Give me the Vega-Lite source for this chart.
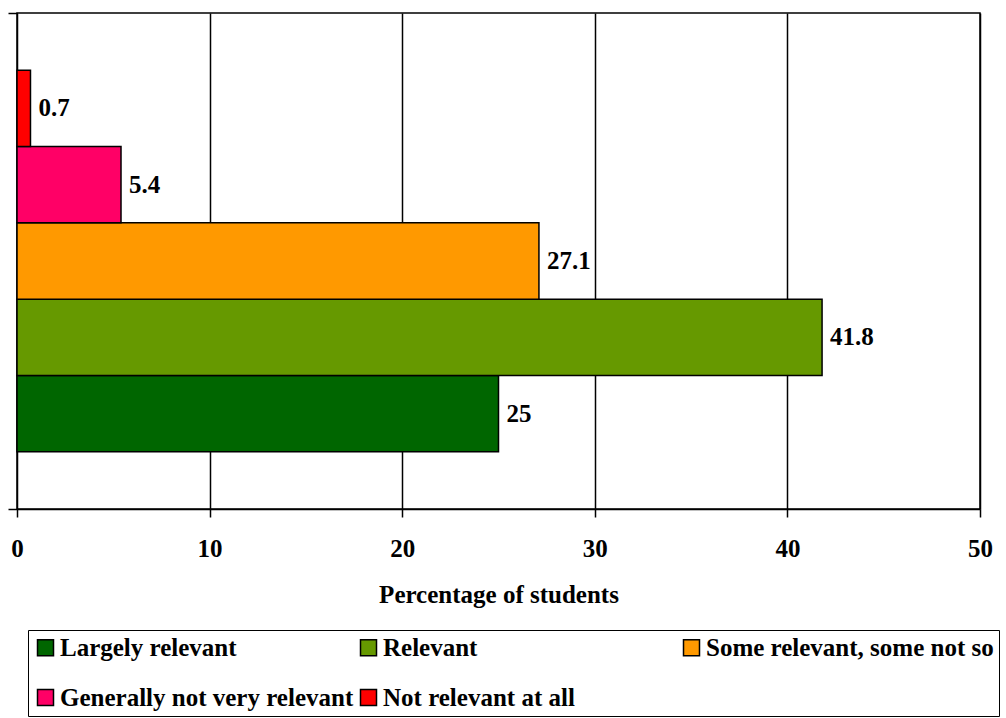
{
  "$schema": "https://vega.github.io/schema/vega-lite/v6.json",
  "width": 963,
  "height": 496,
  "autosize": {"type": "none"},
  "padding": {"left": 17, "top": 13, "right": 26, "bottom": 209},
  "background": "white",
  "config": {
    "font": "Liberation Serif",
    "view": {"stroke": "black", "strokeWidth": 1.5}
  },
  "data": {
    "values": [
      {"group": "Students", "response": "Largely relevant", "pct": 25},
      {"group": "Students", "response": "Relevant", "pct": 41.8},
      {"group": "Students", "response": "Some relevant, some not so", "pct": 27.1},
      {"group": "Students", "response": "Generally not very relevant", "pct": 5.4},
      {"group": "Students", "response": "Not relevant at all", "pct": 0.7}
    ]
  },
  "encoding": {
    "y": {
      "field": "group",
      "type": "nominal",
      "scale": {"paddingInner": 0, "paddingOuter": 0},
      "axis": {
        "labels": false,
        "title": null,
        "domain": false,
        "grid": false,
        "ticks": true,
        "tickBand": "extent",
        "tickSize": 9,
        "tickColor": "black",
        "tickWidth": 1.5
      }
    },
    "yOffset": {
      "field": "response",
      "type": "nominal",
      "sort": ["Not relevant at all", "Generally not very relevant", "Some relevant, some not so", "Relevant", "Largely relevant"],
      "scale": {"paddingInner": 0, "paddingOuter": 0.75}
    },
    "x": {
      "field": "pct",
      "type": "quantitative",
      "scale": {"domain": [0, 50], "nice": false},
      "axis": {
        "values": [0, 10, 20, 30, 40, 50],
        "title": "Percentage of students",
        "titleFontSize": 25,
        "titleFontWeight": "bold",
        "titleColor": "black",
        "titlePadding": 21,
        "labelFontSize": 25,
        "labelFontWeight": "bold",
        "labelColor": "black",
        "labelPadding": 19,
        "labelFlush": false,
        "domain": true,
        "domainColor": "black",
        "domainWidth": 1.5,
        "ticks": true,
        "tickSize": 8,
        "tickColor": "black",
        "tickWidth": 1.5,
        "grid": true,
        "gridColor": "black",
        "gridWidth": 1.5,
        "gridOpacity": 1
      }
    }
  },
  "layer": [
    {
      "mark": {"type": "bar", "stroke": "black", "strokeWidth": 1.5},
      "encoding": {
        "fill": {
          "field": "response",
          "type": "nominal",
          "scale": {
            "domain": ["Largely relevant", "Relevant", "Some relevant, some not so", "Generally not very relevant", "Not relevant at all"],
            "range": ["#006600", "#669900", "#FF9900", "#FF0066", "#FF0000"]
          },
          "legend": {
            "title": null,
            "orient": "none",
            "legendX": 11,
            "legendY": 617,
            "direction": "horizontal",
            "columns": 3,
            "gridAlign": "all",
            "columnPadding": 2,
            "rowPadding": 24,
            "padding": 5,
            "strokeColor": "black",
            "fillColor": "white",
            "symbolType": "square",
            "symbolSize": 256,
            "symbolStrokeColor": "black",
            "symbolStrokeWidth": 1.5,
            "symbolOpacity": 1,
            "labelFontSize": 25,
            "labelFontWeight": "bold",
            "labelColor": "black",
            "labelOffset": 2,
            "labelLimit": 400
          }
        }
      }
    },
    {
      "mark": {"type": "text", "align": "left", "baseline": "middle", "dx": 8, "fontSize": 25, "fontWeight": "bold", "color": "black"},
      "encoding": {"text": {"field": "pct", "type": "quantitative"}}
    }
  ]
}
